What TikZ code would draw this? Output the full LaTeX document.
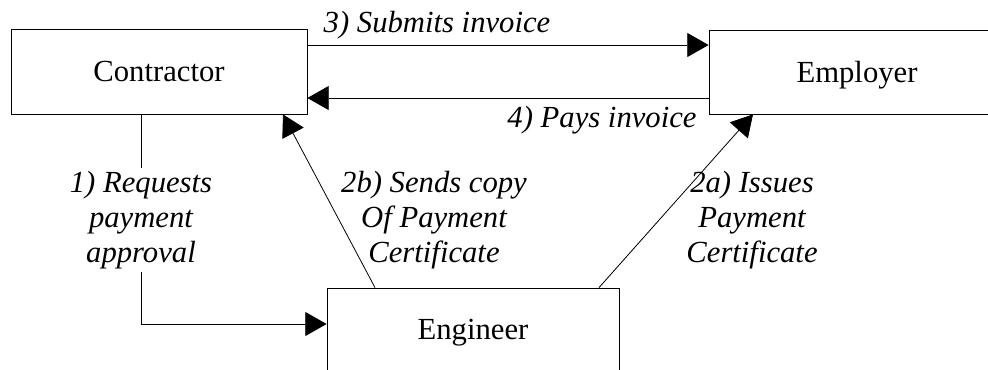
\documentclass[tikz,border=0pt]{standalone}
\usepackage{fontspec}
\setmainfont{Liberation Serif}
\usetikzlibrary{arrows.meta}

\begin{document}
\begin{tikzpicture}[x=0.75pt,y=-0.75pt,
    box/.style={draw,line width=0.6pt,minimum width=222pt,inner sep=0pt,
      font=\fontsize{23}{26.5}\selectfont},
    lbl/.style={font=\fontsize{23}{26.5}\selectfont\itshape,align=center,inner sep=2pt},
    flow/.style={line width=0.6pt,-{Triangle[length=16pt,width=18pt]}}]
  \useasboundingbox (0,0) rectangle (988,369);

  \node[box,minimum height=63.75pt] (contractor) at (159,71.5) {Contractor};
  \node[box,minimum height=62.6pt,text depth=0pt] (employer) at (857,72.25) {Employer};
  \node[box,minimum width=219pt,minimum height=67.5pt] (engineer) at (473,333) {Engineer};

  % invoice flows
  \draw[flow] (contractor.east |- 0,45) -- (employer.west |- 0,45);
  \draw[flow] (employer.west |- 0,98) -- (contractor.east |- 0,98);
  \node[lbl,anchor=base] (submits) at (437,32) {3) Submits invoice};
  \node[lbl,anchor=base] (pays) at (602,127) {4) Pays invoice};

  % approval request
  \draw[flow] (contractor.south -| 141,0) |- (engineer.west |- 0,324);
  \node[lbl,fill=white] (requests) at (141,220) {1) Requests\\payment\\approval};

  % payment certificate
  \draw[flow] (engineer.north -| 375,0) -- (contractor.south -| 283,0);
  \draw[flow] (engineer.north -| 599,0) -- (employer.south -| 753,0);
  \node[lbl] (sends) at (434,220) {2b) Sends copy\\Of Payment\\Certificate};
  \node[lbl] (issues) at (752,220) {2a) Issues\\Payment\\Certificate};
\end{tikzpicture}
\end{document}
